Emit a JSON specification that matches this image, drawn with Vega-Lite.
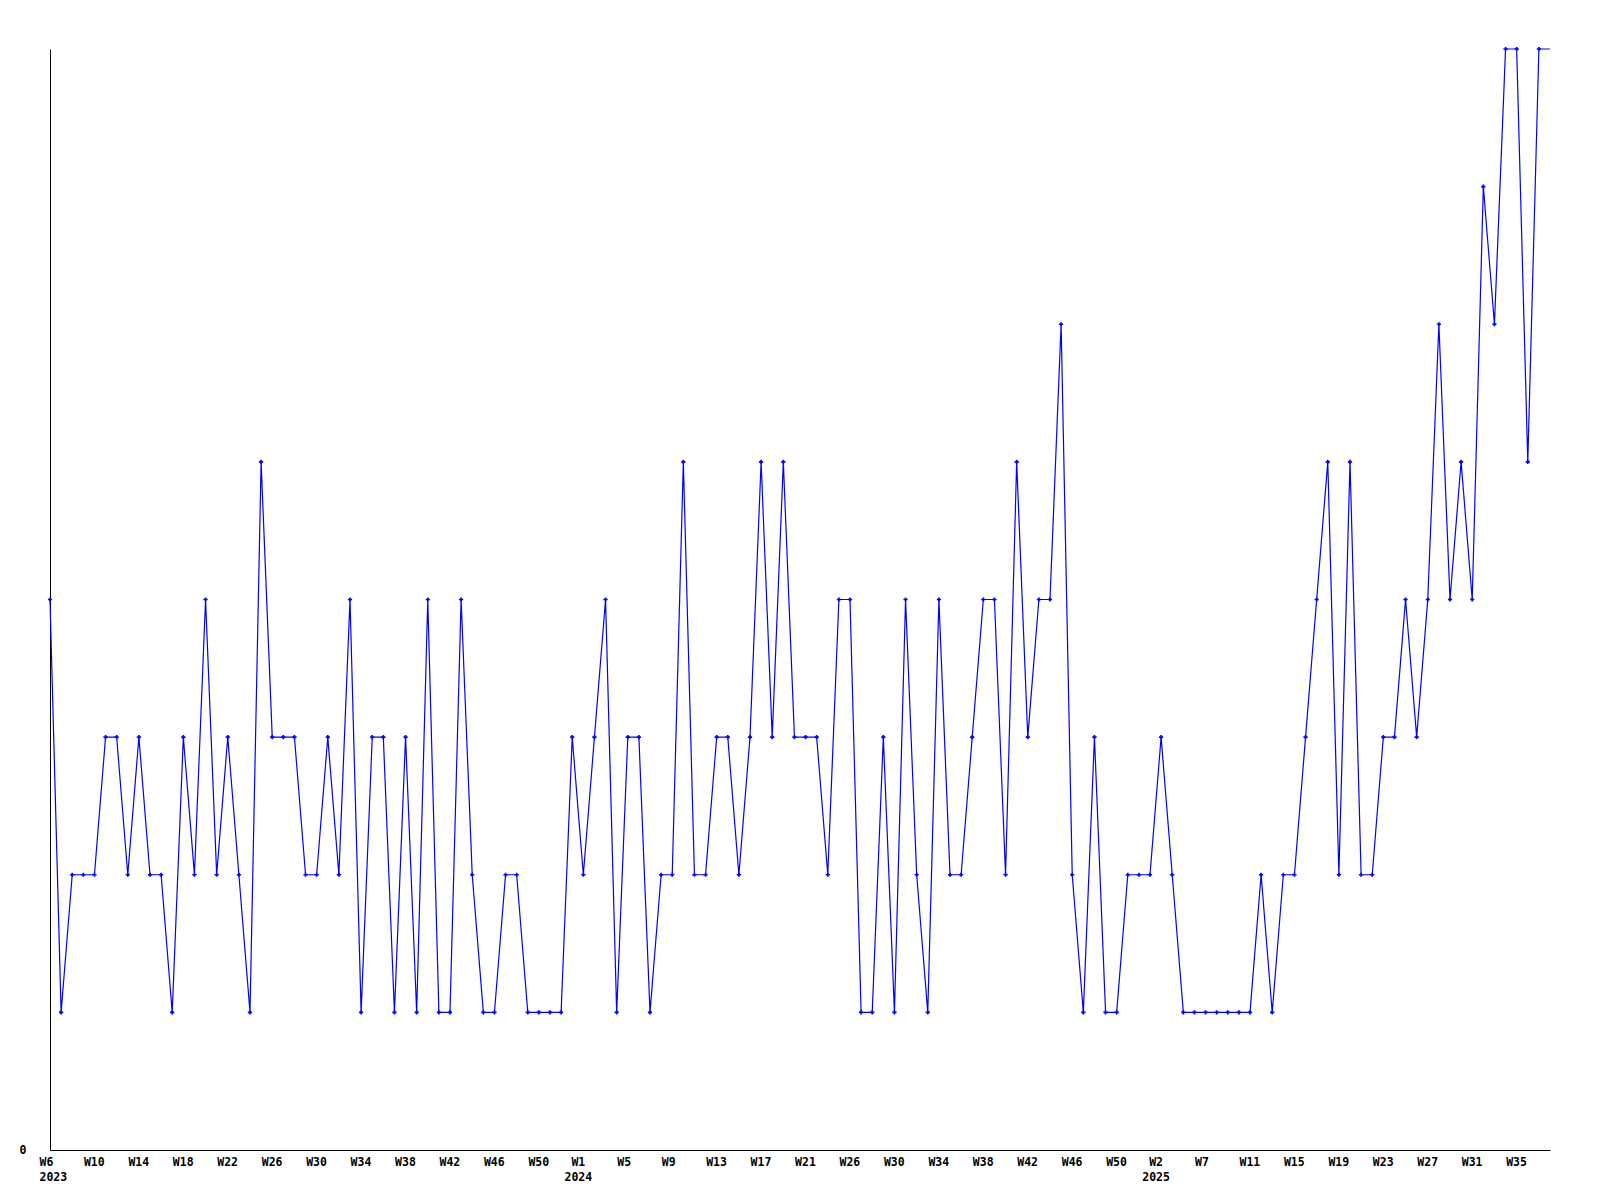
{
  "$schema": "https://vega.github.io/schema/vega-lite/v6.json",
  "autosize": {"type": "none"},
  "width": 1500,
  "height": 1101,
  "padding": {"left": 50, "top": 49, "right": 50, "bottom": 50},
  "background": "white",
  "config": {"view": {"stroke": null}},
  "data": {"values": [
    {"week":0,"count":4},{"week":1,"count":1},{"week":2,"count":2},{"week":3,"count":2},{"week":4,"count":2},
    {"week":5,"count":3},{"week":6,"count":3},{"week":7,"count":2},{"week":8,"count":3},{"week":9,"count":2},
    {"week":10,"count":2},{"week":11,"count":1},{"week":12,"count":3},{"week":13,"count":2},{"week":14,"count":4},
    {"week":15,"count":2},{"week":16,"count":3},{"week":17,"count":2},{"week":18,"count":1},{"week":19,"count":5},
    {"week":20,"count":3},{"week":21,"count":3},{"week":22,"count":3},{"week":23,"count":2},{"week":24,"count":2},
    {"week":25,"count":3},{"week":26,"count":2},{"week":27,"count":4},{"week":28,"count":1},{"week":29,"count":3},
    {"week":30,"count":3},{"week":31,"count":1},{"week":32,"count":3},{"week":33,"count":1},{"week":34,"count":4},
    {"week":35,"count":1},{"week":36,"count":1},{"week":37,"count":4},{"week":38,"count":2},{"week":39,"count":1},
    {"week":40,"count":1},{"week":41,"count":2},{"week":42,"count":2},{"week":43,"count":1},{"week":44,"count":1},
    {"week":45,"count":1},{"week":46,"count":1},{"week":47,"count":3},{"week":48,"count":2},{"week":49,"count":3},
    {"week":50,"count":4},{"week":51,"count":1},{"week":52,"count":3},{"week":53,"count":3},{"week":54,"count":1},
    {"week":55,"count":2},{"week":56,"count":2},{"week":57,"count":5},{"week":58,"count":2},{"week":59,"count":2},
    {"week":60,"count":3},{"week":61,"count":3},{"week":62,"count":2},{"week":63,"count":3},{"week":64,"count":5},
    {"week":65,"count":3},{"week":66,"count":5},{"week":67,"count":3},{"week":68,"count":3},{"week":69,"count":3},
    {"week":70,"count":2},{"week":71,"count":4},{"week":72,"count":4},{"week":73,"count":1},{"week":74,"count":1},
    {"week":75,"count":3},{"week":76,"count":1},{"week":77,"count":4},{"week":78,"count":2},{"week":79,"count":1},
    {"week":80,"count":4},{"week":81,"count":2},{"week":82,"count":2},{"week":83,"count":3},{"week":84,"count":4},
    {"week":85,"count":4},{"week":86,"count":2},{"week":87,"count":5},{"week":88,"count":3},{"week":89,"count":4},
    {"week":90,"count":4},{"week":91,"count":6},{"week":92,"count":2},{"week":93,"count":1},{"week":94,"count":3},
    {"week":95,"count":1},{"week":96,"count":1},{"week":97,"count":2},{"week":98,"count":2},{"week":99,"count":2},
    {"week":100,"count":3},{"week":101,"count":2},{"week":102,"count":1},{"week":103,"count":1},{"week":104,"count":1},
    {"week":105,"count":1},{"week":106,"count":1},{"week":107,"count":1},{"week":108,"count":1},{"week":109,"count":2},
    {"week":110,"count":1},{"week":111,"count":2},{"week":112,"count":2},{"week":113,"count":3},{"week":114,"count":4},
    {"week":115,"count":5},{"week":116,"count":2},{"week":117,"count":5},{"week":118,"count":2},{"week":119,"count":2},
    {"week":120,"count":3},{"week":121,"count":3},{"week":122,"count":4},{"week":123,"count":3},{"week":124,"count":4},
    {"week":125,"count":6},{"week":126,"count":4},{"week":127,"count":5},{"week":128,"count":4},{"week":129,"count":7},
    {"week":130,"count":6},{"week":131,"count":8},{"week":132,"count":8},{"week":133,"count":5},{"week":134,"count":8},
    {"week":135,"count":8}
  ]},
  "encoding": {
    "x": {
      "field": "week", "type": "quantitative",
      "scale": {"domain": [0, 135], "nice": false, "zero": false},
      "axis": {
        "title": null, "grid": false, "ticks": false,
        "domainColor": "black", "domainWidth": 1,
        "values": [0,4,8,12,16,20,24,28,32,36,40,44,48,52,56,60,64,68,72,76,80,84,88,92,96,100,104,108,112,116,120,124,128,132],
        "labelExpr": "datum.value == 0 ? ['W6','2023'] : datum.value == 48 ? ['W1','2024'] : datum.value == 100 ? ['W2','2025'] : ['W6','W10','W14','W18','W22','W26','W30','W34','W38','W42','W46','W50','W1','W5','W9','W13','W17','W21','W26','W30','W34','W38','W42','W46','W50','W2','W7','W11','W15','W19','W23','W27','W31','W35'][datum.value/4]",
        "labelAlign": {"condition": {"test": "datum.value == 48 || datum.value == 100", "value": "center"}, "value": "left"},
        "labelOffset": {"condition": {"test": "datum.value == 48 || datum.value == 100", "value": -5.5}, "value": -11},
        "labelBaseline": "top", "labelPadding": 6,
        "labelFont": "DejaVu Sans Mono", "labelFontWeight": "bold", "labelFontSize": 11.5,
        "labelColor": "black", "labelLineHeight": 15, "labelOverlap": false, "labelFlush": false
      }
    },
    "y": {
      "field": "count", "type": "quantitative",
      "scale": {"domain": [0, 8], "nice": false},
      "axis": {
        "title": null, "grid": false, "ticks": false, "values": [0],
        "domainColor": "black", "domainWidth": 1,
        "labelFont": "DejaVu Sans Mono", "labelFontWeight": "bold", "labelFontSize": 11.5,
        "labelColor": "black", "labelPadding": 24, "labelBaseline": "middle"
      }
    }
  },
  "layer": [
    {"mark": {"type": "line", "color": "#0000ff", "strokeWidth": 1.2}},
    {"transform": [{"filter": "datum.week < 135"}],
     "mark": {"type": "point", "shape": "cross", "filled": true, "color": "#0000ff", "size": 18, "opacity": 1}}
  ]
}
